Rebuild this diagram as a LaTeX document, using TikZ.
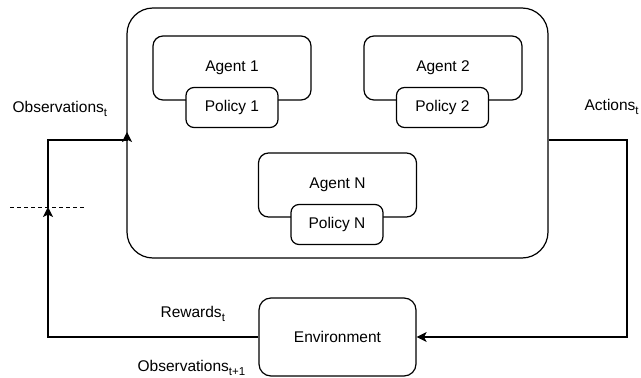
\documentclass[tikz,border=0pt]{standalone}
\usepackage{fontspec}
\setmainfont{Liberation Sans}
\usetikzlibrary{arrows.meta}
% lowered subscript in the text font
\newcommand{\lowsub}[1]{\raisebox{-4.5pt}{\fontsize{11.5}{12}\selectfont #1}}
\begin{document}
\begin{tikzpicture}[x=1pt,y=-1pt,
  font=\fontsize{15.5}{18}\selectfont,
  every path/.style={line width=1.2pt},
  box/.style={draw, fill=white, align=center, inner sep=0pt},
  outerbox/.style={box, rounded corners=26pt, minimum width=421pt, minimum height=250pt},
  agentbox/.style={box, rounded corners=10pt, minimum width=158pt, minimum height=64pt},
  policybox/.style={box, rounded corners=8pt, minimum width=92pt, minimum height=40pt},
  envbox/.style={box, rounded corners=12pt, minimum width=157pt, minimum height=78pt},
  flow/.style={-{Stealth[length=10pt,width=10pt,inset=2.5pt]}},
  lbl/.style={inner sep=0pt, anchor=base west}]
\useasboundingbox (0,0) rectangle (641,378);

% multi-agent system container
\node[outerbox] (sys) at (337.5,133) {};

% agents with their policies
\node[agentbox] (a1) at (232,68) {Agent 1};
\node[policybox] (p1) at (232,107.5) {Policy 1};
\node[agentbox] (a2) at (443,68) {Agent 2};
\node[policybox] (p2) at (442.5,107.5) {Policy 2};
\node[agentbox] (aN) at (337.5,185) {Agent N};
\node[policybox] (pN) at (337,224.5) {Policy N};

% environment
\node[envbox] (env) at (337.5,337) {Environment};

% loop corners
\coordinate (obsin) at (127,132);
\coordinate (lc) at (48,140);
\coordinate (cut) at (48,207);
\coordinate (rc) at (627,140);
\coordinate (dl) at (10,207);
\coordinate (dr) at (86,207);

% time-step boundary
\draw[dashed, dash pattern=on 4pt off 3pt, line width=1pt] (dl) -- (dr);

% environment -> agents
\draw[flow] (env.west) -| (cut);
\draw[flow] (cut) -- (lc) -| (obsin);

% agents -> environment
\draw[flow] (sys.east |- rc) -- (rc) |- (env.east);

% labels
\node[lbl] (obst) at (12,112) {Observations\lowsub{t}};
\node[lbl] (act) at (584,110) {Actions\lowsub{t}};
\node[lbl] (rew) at (160,317) {Rewards\lowsub{t}};
\node[lbl] (obsn) at (137,371) {Observations\lowsub{t+1}};
\end{tikzpicture}
\end{document}
